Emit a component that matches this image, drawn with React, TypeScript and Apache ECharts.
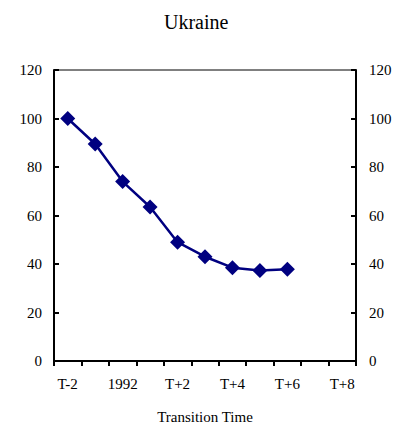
import React, { useEffect, useRef } from "react";
import * as echarts from "echarts";

const categories = ["T-2", "T-1", "1992", "T+1", "T+2", "T+3", "T+4", "T+5", "T+6", "T+7", "T+8"];
const values = [100, 89.5, 74, 63.5, 49, 43, 38.5, 37.3, 37.8];
const yMin = 0;
const yMax = 120;
const yStep = 20;

const FONT = "'Liberation Serif', 'DejaVu Serif', serif";

export default function App() {
  const ref = useRef<HTMLDivElement>(null);
  useEffect(() => {
    if (!ref.current) return;
    const chart = echarts.init(ref.current, null, { renderer: "svg" });
    const yAxisCommon = {
      type: "value" as const,
      min: yMin,
      max: yMax,
      interval: yStep,
      splitLine: { show: false },
      axisLine: { show: true, lineStyle: { color: "#000", width: 2 } },
      axisTick: { show: true, inside: true, length: 5, lineStyle: { color: "#000", width: 2 } },
      axisLabel: { color: "#000", fontFamily: FONT, fontSize: 15, margin: 12 },
    };
    chart.setOption({
      animation: false,
      textStyle: { fontFamily: FONT },
      title: {
        text: "Ukraine",
        left: 159,
        top: 7,
        textStyle: { fontFamily: FONT, fontSize: 20, fontWeight: "normal", color: "#000" },
      },
      grid: {
        left: 54,
        right: 50,
        top: 70,
        bottom: 69,
        show: true,
        borderColor: "#000",
        borderWidth: 1,
      },
      xAxis: {
        type: "category",
        data: categories,
        boundaryGap: true,
        name: "Transition Time",
        nameLocation: "middle",
        nameGap: 48,
        nameTextStyle: { fontFamily: FONT, fontSize: 15, color: "#000" },
        axisLine: { show: true, lineStyle: { color: "#000", width: 2 } },
        axisTick: { show: true, interval: 0, alignWithLabel: false, length: 5, lineStyle: { color: "#000", width: 2 } },
        axisLabel: { interval: 1, color: "#000", fontFamily: FONT, fontSize: 15, margin: 15 },
        splitLine: { show: false },
      },
      yAxis: [
        { ...yAxisCommon, position: "left" },
        { ...yAxisCommon, position: "right", axisLabel: { ...yAxisCommon.axisLabel, margin: 13 } },
      ],
      series: [
        {
          type: "line",
          data: values,
          yAxisIndex: 0,
          symbol: "diamond",
          symbolSize: 15,
          itemStyle: { color: "#000080" },
          lineStyle: { color: "#000080", width: 2.5 },
        },
      ],
    });
    return () => chart.dispose();
  }, []);
  return <div ref={ref} style={{ width: 406, height: 430, position: "absolute", left: 0, top: 0 }} />;
}
